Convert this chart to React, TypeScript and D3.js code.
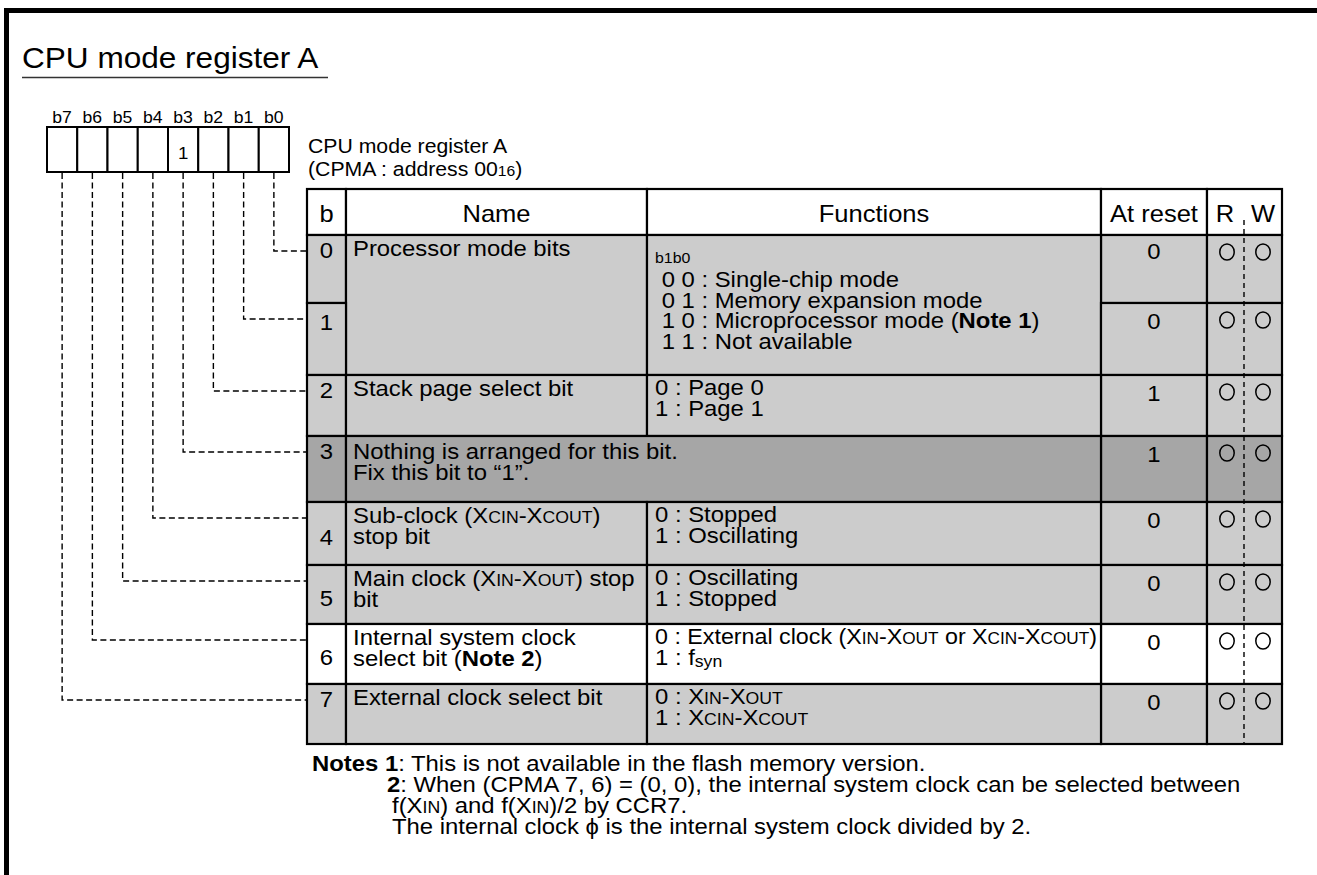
import React, { useEffect, useRef } from "react";
import * as d3 from "d3";

// register bits, left to right as drawn
const bitLabels = ["b7", "b6", "b5", "b4", "b3", "b2", "b1", "b0"];
const bitFixed = ["", "", "", "", "1", "", "", ""];

// table rows (bit 0 .. bit 7)
const rowBits = ["0", "1", "2", "3", "4", "5", "6", "7"];
const rowNames = [
  ["Processor mode bits"],
  [],
  ["Stack page select bit"],
  ["Nothing is arranged for this bit.", "Fix this bit to \u201C1\u201D."],
  ["Sub-clock (X{CIN}-X{COUT})", "stop bit"],
  ["Main clock (X{IN}-X{OUT}) stop", "bit"],
  ["Internal system clock", "select bit (**Note 2**)"],
  ["External clock select bit"],
];
const rowFunctions = [
  ["{b1b0}", " 0 0 : Single-chip mode", " 0 1 : Memory expansion mode", " 1 0 : Microprocessor mode (**Note 1**)", " 1 1 : Not available"],
  [],
  ["0 : Page 0", "1 : Page 1"],
  [],
  ["0 : Stopped", "1 : Oscillating"],
  ["0 : Oscillating", "1 : Stopped"],
  ["0 : External clock (X{IN}-X{OUT} or X{CIN}-X{COUT})", "1 : f[syn]"],
  ["0 : X{IN}-X{OUT}", "1 : X{CIN}-X{COUT}"],
];
const resetValues = ["0", "0", "1", "1", "0", "0", "0", "0"];
const readable = [true, true, true, true, true, true, true, true];
const writable = [true, true, true, true, true, true, true, true];

const headerLabels = ["b", "Name", "Functions", "At reset"];
const noteLines = [
  "**Notes 1**: This is not available in the flash memory version.",
  "**2**: When (CPMA 7, 6) = (0, 0), the internal system clock can be selected between",
  "f(X{IN}) and f(X{IN})/2 by CCR7.",
  "The internal clock \u03D5 is the internal system clock divided by 2.",
];

// layout
const W = 1317;
const H = 875;
const SX = 1.1; // text in the source is slightly wide
const FONT = "'Liberation Sans', Arial, Helvetica, sans-serif";
const BODY = 21.7;
const cols = [307, 346, 647, 1101, 1207, 1282];
const tableTop = 189;
const headBottom = 235;
const rowHeights = [68, 72, 61, 66, 63, 59, 60, 60];
const shade = (i) => (i === 3 ? "#a6a6a6" : i === 6 ? "#ffffff" : "#cccccc");

function richText(g, x, y, str, size, anchor = "start", maxW = 0) {
  const t = g
    .append("text")
    .attr("font-family", FONT)
    .attr("font-size", size)
    .attr("text-anchor", anchor)
    .attr("fill", "#000")
    .style("white-space", "pre");
  let shift = 0;
  str
    .split(/(\*\*.+?\*\*|\{.+?\}|\[.+?\])/)
    .filter(Boolean)
    .forEach((part) => {
      let txt = part;
      let fs = size;
      let weight = "normal";
      let target = 0;
      if (part.startsWith("**")) {
        txt = part.slice(2, -2);
        weight = "bold";
      } else if (part.startsWith("{")) {
        txt = part.slice(1, -1);
        fs = size * 0.74;
      } else if (part.startsWith("[")) {
        txt = part.slice(1, -1);
        fs = size * 0.74;
        target = size * 0.12;
      }
      const ts = t.append("tspan").attr("font-size", fs).attr("font-weight", weight).text(txt);
      if (target !== shift) {
        ts.attr("dy", target - shift);
        shift = target;
      }
    });
  let sx = SX;
  if (maxW) {
    const len = t.node().getComputedTextLength() * SX;
    if (len > maxW) sx = (SX * maxW) / len;
  }
  t.attr("transform", `translate(${x},${y}) scale(${sx},1)`);
  return t;
}

export default function App() {
  const ref = useRef(null);

  useEffect(() => {
    document.body.style.margin = "0";
    const svg = d3.select(ref.current);
    svg.selectAll("*").remove();

    // page frame (top and left rules)
    svg.append("rect").attr("x", 4).attr("y", 8).attr("width", W - 4).attr("height", 5).attr("fill", "#000");
    svg.append("rect").attr("x", 4).attr("y", 8).attr("width", 5).attr("height", H - 8).attr("fill", "#000");

    // title
    richText(svg, 22, 68, "CPU mode register A", 28.7);
    svg.append("line").attr("x1", 22).attr("x2", 328).attr("y1", 77.5).attr("y2", 77.5)
      .attr("stroke", "#333").attr("stroke-width", 1.5);

    // bit boxes
    const xBit = d3.scaleBand().domain(bitLabels).range([47, 289]).padding(0);
    const boxTop = 127;
    const boxBottom = 172;
    bitLabels.forEach((b, i) => {
      const x0 = xBit(b);
      svg.append("rect").attr("x", x0).attr("y", boxTop).attr("width", xBit.bandwidth()).attr("height", boxBottom - boxTop)
        .attr("fill", "#fff").attr("stroke", "#000").attr("stroke-width", 2);
      richText(svg, x0 + xBit.bandwidth() / 2, 123, b, 16, "middle");
      if (bitFixed[i]) richText(svg, x0 + xBit.bandwidth() / 2, 159, bitFixed[i], 17, "middle");
    });
    richText(svg, 308, 153, "CPU mode register A", 19.3);
    richText(svg, 308, 176, "(CPMA : address 00{16})", 19.3);

    // row positions
    const tops = [headBottom, ...Array.from(d3.cumsum(rowHeights), (v) => headBottom + v)];
    const tableBottom = tops[tops.length - 1];

    // which rows start a Name/Functions cell and how far it spans
    const spans = rowBits.map((_, i) => {
      if (rowNames[i].length === 0 && rowFunctions[i].length === 0) return 0;
      let s = 1;
      while (i + s < rowBits.length && rowNames[i + s].length === 0 && rowFunctions[i + s].length === 0) s++;
      return s;
    });
    const merged = rowBits.map((_, i) => rowNames[i].length > 0 && rowFunctions[i].length === 0);

    // dashed connectors from the boxes to the rows
    const links = svg.append("g").attr("fill", "none").attr("stroke", "#000").attr("stroke-width", 1.4)
      .attr("stroke-dasharray", "6,3.5");
    rowBits.forEach((bit, i) => {
      const b = "b" + bit;
      const bx = xBit(b) + xBit.bandwidth() / 2;
      const cy = tops[i] + 16;
      links.append("path").attr("d", `M${bx},${boxBottom + 1}V${cy}H${cols[0]}`);
    });

    // cells
    const cells = [];
    [0, 1, 2, 3, 4].forEach((c) => cells.push({ x0: cols[c], x1: cols[c + 1], y0: tableTop, y1: headBottom, fill: "#fff" }));
    rowBits.forEach((_, i) => {
      const y0 = tops[i];
      const y1 = tops[i + 1];
      cells.push({ x0: cols[0], x1: cols[1], y0, y1, fill: shade(i) });
      cells.push({ x0: cols[3], x1: cols[4], y0, y1, fill: shade(i) });
      cells.push({ x0: cols[4], x1: cols[5], y0, y1, fill: shade(i) });
      if (spans[i] > 0) {
        const yb = tops[i + spans[i]];
        if (merged[i]) cells.push({ x0: cols[1], x1: cols[3], y0, y1: yb, fill: shade(i) });
        else {
          cells.push({ x0: cols[1], x1: cols[2], y0, y1: yb, fill: shade(i) });
          cells.push({ x0: cols[2], x1: cols[3], y0, y1: yb, fill: shade(i) });
        }
      }
    });
    const grid = svg.append("g");
    grid.selectAll("rect").data(cells).join("rect")
      .attr("x", (d) => d.x0).attr("y", (d) => d.y0)
      .attr("width", (d) => d.x1 - d.x0).attr("height", (d) => d.y1 - d.y0)
      .attr("fill", (d) => d.fill).attr("stroke", "#000").attr("stroke-width", 2.2);

    // R/W divider
    svg.append("line").attr("x1", 1244).attr("x2", 1244).attr("y1", 220).attr("y2", tableBottom)
      .attr("stroke", "#000").attr("stroke-width", 1.4).attr("stroke-dasharray", "5,4");

    // header
    const headY = 222;
    headerLabels.forEach((h, c) => richText(svg, (cols[c] + cols[c + 1]) / 2, headY, h, 23.2, "middle"));
    richText(svg, 1225, headY, "R", 23.2, "middle");
    richText(svg, 1263, headY, "W", 23.2, "middle");

    // row contents
    rowBits.forEach((bit, i) => {
      const y0 = tops[i];
      const h = rowHeights[i];
      const centred = rowNames[i].length === 2 && !merged[i];
      const numY = centred ? y0 + h / 2 + 11 : i === 1 ? y0 + 27 : y0 + 23;
      richText(svg, (cols[0] + cols[1]) / 2, numY, bit, BODY, "middle");

      const nameY = merged[i] ? y0 + 23 : y0 + 21;
      rowNames[i].forEach((line, k) => richText(svg, 353, nameY + k * 21, line, BODY));

      let fy = y0 + 20;
      rowFunctions[i].forEach((line, k) => {
        if (k === 0 && line.startsWith("{")) {
          richText(svg, 655, y0 + 28, line, BODY * 0.9);
          fy = y0 + 52;
          return;
        }
        richText(svg, 655, fy, line, BODY, "start", cols[3] - 655 - 4);
        fy += 20.7;
      });

      richText(svg, (cols[3] + cols[4]) / 2, i === 0 ? y0 + 24 : y0 + 26, resetValues[i], BODY, "middle");
      const cy = y0 + 17;
      if (readable[i]) svg.append("ellipse").attr("cx", 1227).attr("cy", cy).attr("rx", 7.2).attr("ry", 8)
        .attr("fill", "none").attr("stroke", "#000").attr("stroke-width", 1.5);
      if (writable[i]) svg.append("ellipse").attr("cx", 1263).attr("cy", cy).attr("rx", 7.2).attr("ry", 8)
        .attr("fill", "none").attr("stroke", "#000").attr("stroke-width", 1.5);
    });

    // notes
    const noteX = [312, 387, 392, 392];
    noteLines.forEach((line, k) => richText(svg, noteX[k], 771 + k * 21, line, BODY));
  }, []);

  return <svg ref={ref} width={W} height={H} style={{ display: "block", background: "#fff" }} />;
}
